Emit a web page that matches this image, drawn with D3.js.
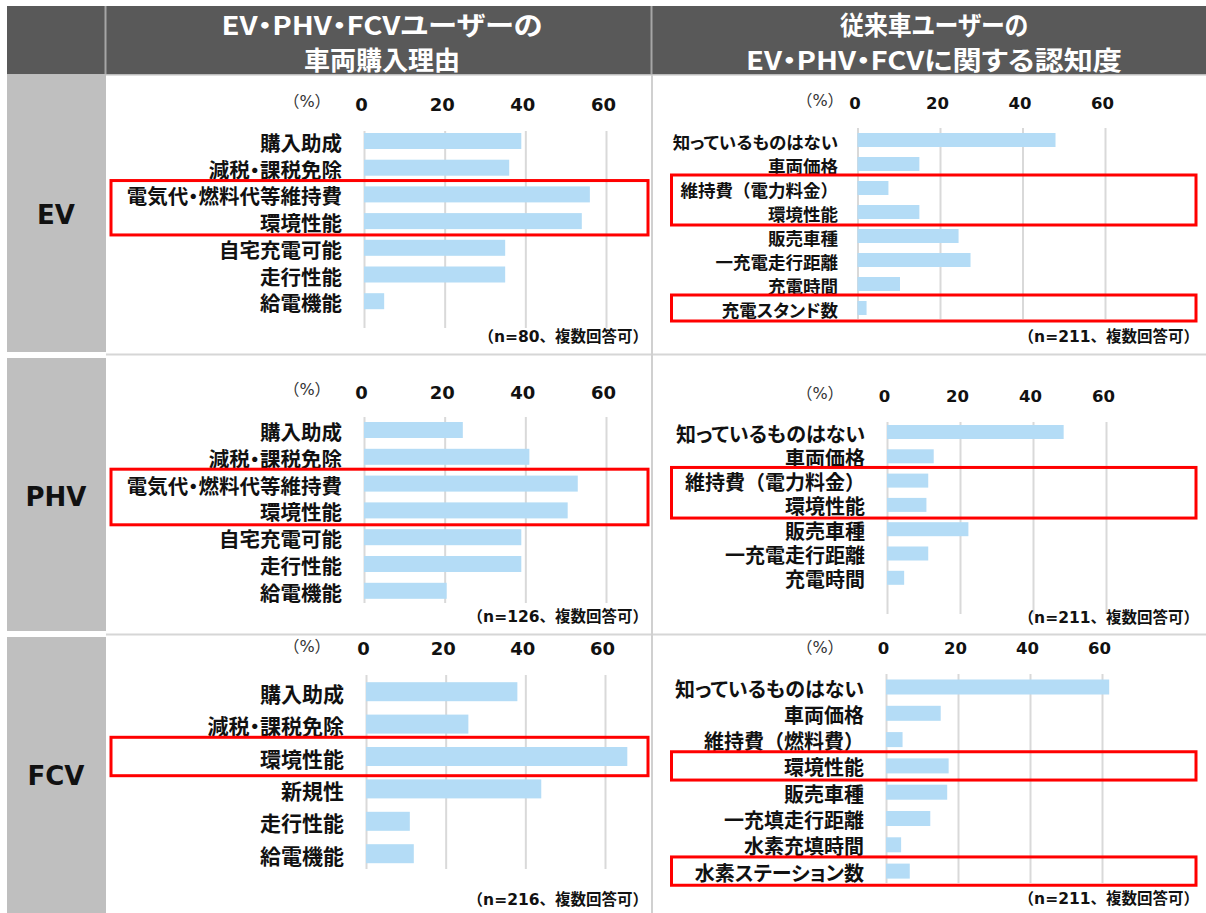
<!DOCTYPE html>
<html><head><meta charset="utf-8">
<script src="https://cdn.jsdelivr.net/npm/d3@7"></script>
<style>
html,body{margin:0;padding:0;background:#fff;}
</style>
</head><body>
<svg id="c" width="1206" height="913"></svg>
<script>
// ---------- DATA ----------
const rowLabels = ["EV", "PHV", "FCV"];
const headerLeft = ["EV・PHV・FCVユーザーの", "車両購入理由"];
const headerRight = ["従来車ユーザーの", "EV・PHV・FCVに関する認知度"];
const tickValues = [0, 20, 40, 60];
const unitLabel = "（%）";

const evReasonCats = ["購入助成", "減税・課税免除", "電気代・燃料代等維持費", "環境性能", "自宅充電可能", "走行性能", "給電機能"];
const evReasonVals = [39, 36, 56, 54, 35, 35, 5];
const phvReasonCats = ["購入助成", "減税・課税免除", "電気代・燃料代等維持費", "環境性能", "自宅充電可能", "走行性能", "給電機能"];
const phvReasonVals = [24.5, 41, 53, 50.5, 39, 39, 20.5];
const fcvReasonCats = ["購入助成", "減税・課税免除", "環境性能", "新規性", "走行性能", "給電機能"];
const fcvReasonVals = [38, 25.7, 65.6, 44, 11, 12];

const evAwareCats = ["知っているものはない", "車両価格", "維持費（電力料金）", "環境性能", "販売車種", "一充電走行距離", "充電時間", "充電スタンド数"];
const evAwareVals = [48, 15, 7.5, 15, 24.5, 27.4, 10.3, 2.2];
const phvAwareCats = ["知っているものはない", "車両価格", "維持費（電力料金）", "環境性能", "販売車種", "一充電走行距離", "充電時間", ""];
const phvAwareVals = [48.4, 12.8, 11.3, 10.8, 22.3, 11.3, 4.7, null];
const fcvAwareCats = ["知っているものはない", "車両価格", "維持費（燃料費）", "環境性能", "販売車種", "一充填走行距離", "水素充填時間", "水素ステーション数"];
const fcvAwareVals = [62, 15.2, 4.6, 17.4, 17, 12.3, 4.2, 6.6];

const notes = ["（n=80、複数回答可）", "（n=126、複数回答可）", "（n=216、複数回答可）", "（n=211、複数回答可）", "（n=211、複数回答可）", "（n=211、複数回答可）"];
// highlighted category groups (red boxes)
const evReasonBoxes = [["電気代・燃料代等維持費", "環境性能"]];
const phvReasonBoxes = [["電気代・燃料代等維持費", "環境性能"]];
const fcvReasonBoxes = [["環境性能"]];
const evAwareBoxes = [["維持費（電力料金）", "環境性能"], ["充電スタンド数"]];
const phvAwareBoxes = [["維持費（電力料金）", "環境性能"]];
const fcvAwareBoxes = [["環境性能"], ["水素ステーション数"]];

// ---------- STYLE ----------
const CJK = '"Noto Sans CJK JP", "Noto Sans", sans-serif';
const MIX = '"DejaVu Sans", "Noto Sans CJK JP", sans-serif';
const barColor = "#b4dcf6";
const gridColor = "#d9d9d9";

const svg = d3.select("#c");

// header band
svg.append("rect").attr("x", 7).attr("y", 6).attr("width", 1199).attr("height", 68).attr("fill", "#595959");
svg.append("rect").attr("x", 7).attr("y", 74).attr("width", 1199).attr("height", 1.5).attr("fill", "#bdbdbd");
svg.append("rect").attr("x", 104.5).attr("y", 6).attr("width", 2).attr("height", 68).attr("fill", "#a6a6a6");
svg.append("rect").attr("x", 650.5).attr("y", 6).attr("width", 2).attr("height", 68).attr("fill", "#a6a6a6");

function headerText(lines, cx, widths) {
  lines.forEach((t, i) => {
    svg.append("text").attr("x", cx).attr("y", 23 + i * 35)
      .attr("text-anchor", "middle").attr("dominant-baseline", "central")
      .attr("fill", "#fff").attr("font-family", CJK).attr("font-weight", 700)
      .attr("font-size", 26).attr("textLength", widths[i]).attr("lengthAdjust", "spacingAndGlyphs")
      .style("font-feature-settings", '"palt"')
      .text(t);
  });
}
headerText(headerLeft, 382, [321, 156]);
headerText(headerRight, 934, [188, 376]);

// left gray column
const rowBlocks = [[75, 352], [358, 631], [637, 913]];
const rowCenters = [215, 497, 776];
rowBlocks.forEach((b, i) => {
  svg.append("rect").attr("x", 7).attr("y", b[0]).attr("width", 99).attr("height", b[1] - b[0]).attr("fill", "#bfbfbf");
  svg.append("text").attr("x", 56).attr("y", rowCenters[i])
    .attr("text-anchor", "middle").attr("dominant-baseline", "central")
    .attr("font-family", '"DejaVu Sans", sans-serif').attr("font-weight", 700).attr("font-size", 26)
    .attr("fill", "#111").text(rowLabels[i]);
});

// separators
svg.append("rect").attr("x", 106).attr("y", 353.5).attr("width", 1100).attr("height", 2).attr("fill", "#d6d6d6");
svg.append("rect").attr("x", 106).attr("y", 633.5).attr("width", 1100).attr("height", 2).attr("fill", "#d6d6d6");
svg.append("rect").attr("x", 651).attr("y", 75).attr("width", 2).attr("height", 838).attr("fill", "#d0d0d0");

function panel(c) {
  const g = svg.append("g");
  const x = d3.scaleLinear().domain([0, 60]).range([c.x0, c.x60]);
  const n = c.cats.length;
  const top = c.firstCenter - c.step / 2;
  const p = 1 - c.barH / c.step;
  const y = d3.scaleBand().domain(c.cats.map((d, i) => i)).range([top, top + c.step * n])
    .paddingInner(p).paddingOuter(p / 2);

  // gridlines
  const grid = g.append("g").attr("transform", `translate(0,${c.gridTop})`)
    .call(d3.axisBottom(x).tickValues(tickValues).tickSize(c.gridBottom - c.gridTop).tickFormat(""));
  grid.select(".domain").remove();
  grid.selectAll("line").attr("stroke", gridColor).attr("stroke-width", 2);

  // tick labels
  const ax = g.append("g").attr("transform", `translate(-3,${c.tickY})`)
    .call(d3.axisTop(x).tickValues(tickValues).tickSize(0).tickPadding(0));
  ax.select(".domain").remove();
  ax.selectAll("text").attr("y", 0).attr("dy", null).attr("dominant-baseline", "central")
    .attr("font-family", MIX).attr("font-weight", 700).attr("font-size", c.tickSize).attr("fill", "#111");

  // unit
  g.append("text").attr("x", c.pctX).attr("y", c.pctY).attr("text-anchor", "middle")
    .attr("dominant-baseline", "central").attr("font-family", MIX).attr("font-size", 16)
    .attr("fill", "#333").text(unitLabel);

  // bars
  g.selectAll(".bar").data(c.vals.map((v, i) => ({v, i})).filter(d => d.v != null))
    .join("rect").attr("x", x(0)).attr("y", d => y(d.i))
    .attr("width", d => x(d.v) - x(0)).attr("height", y.bandwidth()).attr("fill", barColor);

  // category labels
  g.selectAll(".lab").data(c.cats.map((t, i) => ({t, i})).filter(d => d.t !== ""))
    .join("text").attr("x", c.labelRight).attr("y", d => y(d.i) + y.bandwidth() / 2 + 1)
    .attr("text-anchor", "end").attr("dominant-baseline", "central")
    .attr("font-family", CJK).attr("font-weight", 700).attr("font-size", c.labelSize)
    .style("font-feature-settings", d => d.t.includes("（") ? "normal" : '"palt"')
    .attr("fill", "#111").text(d => d.t);

  // note
  g.append("text").attr("x", c.noteRight).attr("y", c.noteY).attr("text-anchor", "end")
    .attr("dominant-baseline", "central").attr("font-family", MIX).attr("font-weight", 700)
    .attr("font-size", 15.5).attr("fill", "#111").text(c.note);

  // red boxes
  c.boxes.forEach(grp => {
    const i0 = c.cats.indexOf(grp[0]), i1 = c.cats.indexOf(grp[grp.length - 1]);
    const y0 = y(i0) + y.bandwidth() / 2 - c.step / 2 - c.boxPad;
    const y1 = y(i1) + y.bandwidth() / 2 + c.step / 2 + c.boxPad;
    g.append("rect").attr("x", c.boxX0).attr("y", y0).attr("width", c.boxX1 - c.boxX0)
      .attr("height", y1 - y0).attr("fill", "none").attr("stroke", "#ff0000").attr("stroke-width", 3);
  });
}

const L = {x0: 364, x60: 606, boxX0: 111, boxX1: 648, labelRight: 342, pctX: 307, noteRight: 648, tickSize: 18};
const R = {boxX0: 671.5, boxX1: 1196, pctX: 820, noteRight: 1199, tickSize: 16.5};

panel({...L, cats: evReasonCats, vals: evReasonVals, firstCenter: 141, step: 26.7, barH: 16,
  gridTop: 131, gridBottom: 328, tickY: 104, labelSize: 20.5, pctY: 101, note: notes[0], noteY: 337,
  boxes: evReasonBoxes, boxPad: 0.5});
panel({...L, cats: phvReasonCats, vals: phvReasonVals, firstCenter: 430, step: 26.8, barH: 16,
  gridTop: 417, gridBottom: 603, tickY: 392, labelSize: 20.5, pctY: 389, note: notes[1], noteY: 617,
  boxes: phvReasonBoxes, boxPad: 1});
panel({...L, x0: 366, x60: 605, cats: fcvReasonCats, vals: fcvReasonVals, firstCenter: 691.7, step: 32.4, barH: 19,
  gridTop: 675, gridBottom: 869, tickY: 648, labelRight: 344, labelSize: 21, pctY: 646, note: notes[2], noteY: 900,
  boxes: fcvReasonBoxes, boxPad: 3});

panel({...R, x0: 857.5, x60: 1105, cats: evAwareCats, vals: evAwareVals, firstCenter: 140, step: 24, barH: 14,
  gridTop: 128, gridBottom: 319, tickY: 103, labelRight: 838, labelSize: 17.5, pctY: 100, note: notes[3], noteY: 337,
  boxes: evAwareBoxes, boxPad: 1});
panel({...R, x0: 887, x60: 1106, cats: phvAwareCats, vals: phvAwareVals, firstCenter: 432, step: 24.3, barH: 14,
  gridTop: 422, gridBottom: 614, tickY: 396, labelRight: 865, labelSize: 20, pctY: 393, note: notes[4], noteY: 618,
  boxes: phvAwareBoxes, boxPad: 1});
panel({...R, x0: 886, x60: 1102, cats: fcvAwareCats, vals: fcvAwareVals, firstCenter: 687, step: 26.3, barH: 15,
  gridTop: 674, gridBottom: 883, tickY: 648, labelRight: 864, labelSize: 20, pctY: 647, note: notes[5], noteY: 899,
  boxes: fcvAwareBoxes, boxPad: 1});
</script>
</body></html>
